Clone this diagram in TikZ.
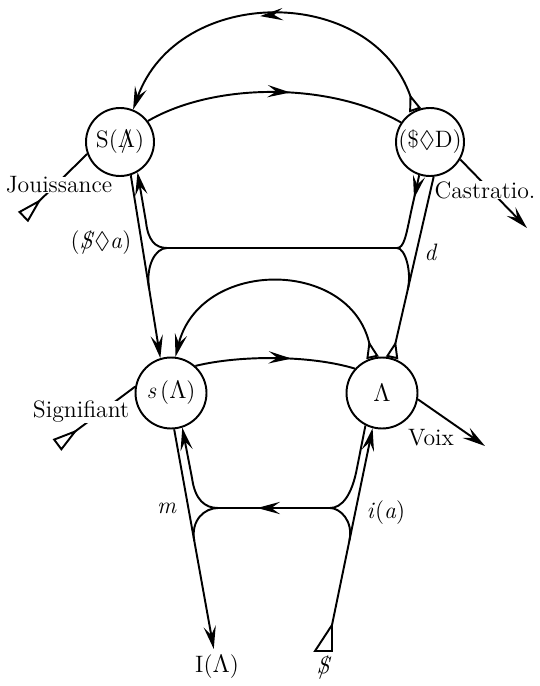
\documentclass[tikz,border=0pt]{standalone}
\usepackage{amsmath,amssymb}
\usepackage{tikz}
\usetikzlibrary{arrows.meta,calc,decorations.markings}

\newcommand{\barS}{\ooalign{\textit{S}\cr\hidewidth/\hidewidth\cr}}
\newcommand{\barL}{\ooalign{$\Lambda$\cr\hidewidth/\hidewidth\cr}}

\begin{document}
\begin{tikzpicture}[
    x=0.02cm, y=-0.02cm,
    font=\fontsize{13.5}{16}\selectfont,
    spot/.style={circle, draw, line width=1.1pt, minimum size=1.36cm, inner sep=0pt},
    lowspot/.style={spot, minimum size=1.42cm},
    wire/.style={draw, line width=1.1pt},
    vec/.style={wire, arrows={-{Stealth[length=13pt,width=7pt,inset=5pt]}}},
    tri/.style={wire, arrows={{Triangle[open,reversed,length=10pt,width=7pt]}-}},
    longtri/.style={wire, arrows={{Triangle[open,reversed,length=15pt,width=8pt]}-}},
    trivec/.style={wire, arrows={{Triangle[open,reversed,length=10pt,width=7pt]}-{Stealth[length=13pt,width=7pt,inset=5pt]}}},
    midarrow/.style={postaction={decorate}, decoration={markings, mark=at position #1 with {\arrow{Stealth[length=13pt,width=7pt,inset=5pt]}}}},
    lbl/.style={fill=white, inner sep=0pt}
]
    \useasboundingbox (0,0) rectangle (539,686);

    % Upper chain
    \node (SA) at (120,142) [spot] {S(\barL)};
    \node (SD) at (430,142) [spot] {(\$$\lozenge$D)};

    % Lower chain
    \node (sA) at (171,393) [lowspot] {\textit{s}\,($\Lambda$)};
    \node (A) at (382,393) [lowspot] {$\Lambda$};

    % Ends of the vector and free ends
    \node (IA) at (217,667) {I($\Lambda$)};
    \node (subj) at (324,668) {\barS};
    \coordinate (base) at (332,625);
    \coordinate (jstart) at (23,217);
    \coordinate (sstart) at (57,445);
    \coordinate (castend) at (527,228);
    \coordinate (voixend) at (485,446);
    \coordinate (dR) at (397,248);
    \coordinate (dL) at (167,248);
    \coordinate (iR) at (330,508);
    \coordinate (iL) at (218,508);

    % Arcs between the circles
    \draw[trivec, midarrow=0.54] (SD.115) .. controls (372,-16) and (178,-16) .. (SA.68);
    \draw[wire, midarrow=0.56] (SA.37) .. controls (215,82) and (330,82) .. (SD.146);
    \draw[trivec] (A.105) .. controls (350,258) and (200,258) .. (sA.83);
    \draw[wire, midarrow=0.6] (sA.48) .. controls (240,355) and (310,355) .. (A.138);

    % The vector from bottom right to bottom left
    \draw[wire] (base) -- ++(0,26) -- ++(-17,0) -- cycle;
    \draw[vec] (base) -- (A.-105);
    \draw[tri] (A.74) -- (SD.-84);
    \draw[vec] (SA.-72) -- (sA.107);
    \draw[vec] (sA.-85) -- (IA);

    % Upper short circuit (d)
    \draw[vec, midarrow=0.06] (SD.-108) -- (411,212) .. controls (406,236) and (404,248) .. (dR) -- (dL) .. controls (155,248) and (148,240) .. (146,222) -- (SA.-60);
    \draw[wire] (dR) .. controls (405,248) and ($(A.74)!0.48!(SD.-84)$) .. ($(A.74)!0.376!(SD.-84)$);
    \draw[wire] (dL) .. controls (155,248) and ($(SA.-72)!0.5!(sA.107)$) .. ($(SA.-72)!0.62!(sA.107)$);

    % Lower short circuit (i(a), m)
    \draw[wire] (A.-117) -- (357,468) .. controls (352,495) and (342,508) .. (iR);
    \draw[wire, midarrow=0.65] (iR) -- (iL);
    \draw[vec] (iL) .. controls (205,508) and (195,500) .. (192,478) -- (sA.-72);
    \draw[wire] (iL) .. controls (205,508) and ($(sA.-85)!0.38!(IA)$) .. ($(sA.-85)!0.47!(IA)$);
    \draw[wire] (iR) .. controls (340,508) and ($(base)!0.53!(A.-105)$) .. ($(base)!0.43!(A.-105)$);

    % Side chains
    \draw[longtri] (jstart) -- (SA.-160);
    \draw[longtri] (sstart) -- (sA.170);
    \draw[vec] (SD.-30) -- (castend);
    \draw[vec] (A.-10) -- (voixend);

    % Labels
    \node (jou) at (59,185) [lbl] {Jouissance};
    \node (sig) at (81,412) [lbl] {Signifiant};
    \node (cas) at (485,190) [lbl] {Castratio.};
    \node (voix) at (431,438) {Voix};
    \node (fant) at (101,243) {(\barS$\lozenge$\textit{a})};
    \node (des) at (431,252) {\textit{d}};
    \node (moi) at (167,508) {\textit{m}};
    \node (img) at (386,513) {\textit{i}(\textit{a})};
\end{tikzpicture}
\end{document}
